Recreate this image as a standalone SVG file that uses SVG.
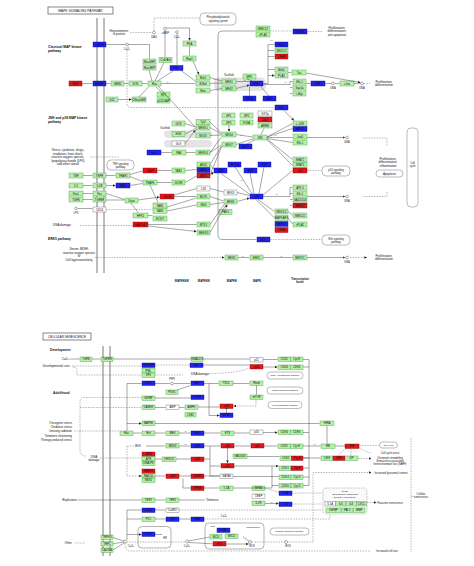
<svg xmlns="http://www.w3.org/2000/svg" width="474" height="566" viewBox="0 0 474 566">
<defs>
<style>
text{font-family:"Liberation Sans",Arial,sans-serif;fill:#111}
.n text{font-size:2.8px;text-anchor:middle}
.g{fill:#b7f0a8;stroke:#3f9f45;stroke-width:.4}
.b{fill:#1f24f0;stroke:#0a0a80;stroke-width:.4}
.r{fill:#e3161b;stroke:#800;stroke-width:.4}
.w{fill:#fff;stroke:#666;stroke-width:.4}
.l path{fill:none;stroke:#3c3c3c;stroke-width:.45}
.d path{stroke-dasharray:1.6 1.1;stroke:#666}
.t{font-size:3px}
.tc{font-size:3px;text-anchor:middle}
.ts{font-size:2.6px;text-anchor:middle}
.tp{font-size:2.2px;fill:#333}
.tb{font-size:3.3px;font-weight:bold}
.tbc{font-size:3.3px;font-weight:bold;text-anchor:middle}
.pw{fill:#fff;stroke:#777;stroke-width:.5}
.sc{fill:#e4e4e4}
.cp{fill:#fff;stroke:#333;stroke-width:.4}
.fr{fill:none;stroke:#666;stroke-width:.5}
.mem{stroke:#555;stroke-width:.8}
</style>
<marker id="a" viewBox="0 0 6 6" refX="6" refY="3" markerWidth="2.6" markerHeight="2.6" markerUnits="userSpaceOnUse" orient="auto"><path d="M0,0L6,3L0,6z" fill="#222"/></marker>
<marker id="t" viewBox="0 0 2 6" refX="1" refY="3" markerWidth="0.8" markerHeight="2.8" markerUnits="userSpaceOnUse" orient="auto"><path d="M0,0h2v6h-2z" fill="#222"/></marker>
</defs>
<rect width="474" height="566" fill="#fff"/>

<!-- ===== TOP PANEL FRAME ===== -->
<g id="top-frame">
<rect x="48" y="7" width="65" height="7" fill="#fff" stroke="#555" stroke-width=".7"/>
<text x="80.5" y="11.8" class="tc" style="font-size:3.3px">MAPK SIGNALING PATHWAY</text>
<line x1="97" y1="18" x2="97" y2="273" class="mem"/>
<line x1="104" y1="18" x2="104" y2="273" class="mem"/>
<text x="48" y="48" class="tb">Classical MAP kinase</text>
<text x="48" y="51.8" class="tb">pathway</text>
<text x="48" y="119" class="tb">JNK and p38 MAP kinase</text>
<text x="48" y="122.8" class="tb">pathway</text>
<text x="48" y="240" class="tb">ERK5 pathway</text>
<text class="tc"><tspan x="68" y="151">Stress, cytokines, drugs,</tspan><tspan x="68" y="154.5">irradiation, heat shock,</tspan><tspan x="68" y="158">reactive oxygen species,</tspan><tspan x="68" y="161.5">lipopolysaccharide (LPS)</tspan><tspan x="68" y="165">and other stimuli</tspan></text>
<text class="tc"><tspan x="79" y="250">Serum, BDNF,</tspan><tspan x="79" y="253.5">reactive oxygen species</tspan><tspan x="79" y="257">or</tspan><tspan x="79" y="260.5">Cell hyperosmolarity</tspan></text>
<text class="tc"><tspan x="119" y="31.5">Heterotrimeric</tspan><tspan x="119" y="35">G-protein</tspan></text>
<text x="62" y="226" class="tc">DNA damage</text>
<text class="tc"><tspan x="337" y="29">Proliferation,</tspan><tspan x="337" y="32.3">differentiation,</tspan><tspan x="337" y="35.6">anti-apoptosis</tspan></text>
<text class="tc"><tspan x="384" y="83">Proliferation,</tspan><tspan x="384" y="86.3">differentiation</tspan></text>
<text class="tc"><tspan x="388" y="160">Proliferation,</tspan><tspan x="388" y="163.3">differentiation,</tspan><tspan x="388" y="166.6">inflammation</tspan></text>
<text class="tc"><tspan x="384" y="257">Proliferation,</tspan><tspan x="384" y="260.3">differentiation</tspan></text>
<text x="182" y="281.5" class="tbc" style="font-size:2.8px">MAPKKKK</text>
<text x="204" y="281.5" class="tbc" style="font-size:2.8px">MAPKKK</text>
<text x="232" y="281.5" class="tbc" style="font-size:2.8px">MAPKK</text>
<text x="257" y="281.5" class="tbc" style="font-size:2.8px">MAPK</text>
<text class="tbc" style="font-size:2.8px"><tspan x="300" y="280">Transcription</tspan><tspan x="300" y="283.3">factor</tspan></text>
<text x="229" y="75.8" class="ts">Scaffold</text>
<text x="165" y="128.5" class="ts">Scaffold</text>
<rect x="214" y="77.5" width="52" height="13.5" rx="5" class="sc"/>
<rect x="164" y="130.5" width="48" height="7.5" rx="3.7" class="sc"/>
<rect x="164" y="140" width="48" height="7.5" rx="3.7" class="sc"/>
</g>

<g id="pathway-links-top">
<g id="pi-system"><rect x="200" y="13" width="36" height="12" rx="4" class="pw"/><text class="ts"><tspan x="218" y="18.3">Phosphatidylinositol</tspan><tspan x="218" y="21.6">signaling system</tspan></text></g>
<g id="tnf-path"><rect x="107" y="160" width="27" height="10" rx="4" class="pw"/><text class="ts"><tspan x="120.5" y="164.5">TNF signaling</tspan><tspan x="120.5" y="167.8">pathway</tspan></text></g>
<g id="p53-path"><rect x="322" y="166" width="28" height="10" rx="4" class="pw"/><text class="ts"><tspan x="336" y="170.5">p53 signaling</tspan><tspan x="336" y="173.8">pathway</tspan></text></g>
<g id="wnt-path"><rect x="322" y="235" width="28" height="10" rx="4" class="pw"/><text class="ts"><tspan x="336" y="239.5">Wnt signaling</tspan><tspan x="336" y="242.8">pathway</tspan></text></g>
<g id="apoptosis"><rect x="376" y="170" width="27" height="7" rx="3.5" class="pw"/><text x="389.5" y="174.6" class="tc">Apoptosis</text></g>
<g id="cellcycle-top"><rect x="407" y="128" width="11" height="79" rx="4" class="pw"/><text class="ts"><tspan x="412.5" y="164">Cell</tspan><tspan x="412.5" y="167.3">cycle</tspan></text></g>
</g>

<g id="compounds-top">
<circle cx="127" cy="44.5" r="1.4" class="cp"/><text x="127" y="50" class="ts">Ca2+</text>
<circle cx="154" cy="32.5" r="1.4" class="cp"/><text x="154" y="37.8" class="ts">DAG</text>
<circle cx="165" cy="28.5" r="1.4" class="cp"/><text x="165.5" y="33.8" class="ts">cAMP</text>
<circle cx="177" cy="32" r="1.4" class="cp"/><text x="177" y="37.5" class="ts">Ca2+</text>
<circle cx="76" cy="208.5" r="1.3" class="cp"/><text x="76" y="213.8" class="ts">LPS</text>
<circle cx="333" cy="83.5" r="1.4" class="cp"/><text x="333" y="88.5" class="ts">DNA</text>
<circle cx="362" cy="83.5" r="1.4" class="cp"/><text x="362" y="88.5" class="ts">DNA</text>
<circle cx="347" cy="137.5" r="1.4" class="cp"/><text x="347" y="142.5" class="ts">DNA</text>
<circle cx="347" cy="196.5" r="1.4" class="cp"/><text x="347" y="201.5" class="ts">DNA</text>
<circle cx="347" cy="257.5" r="1.4" class="cp"/><text x="347" y="262.5" class="ts">DNA</text>
</g>

<!-- ===== TOP NODES ===== -->
<g id="n-cacn" class="n" transform="translate(93,42)"><rect class="b" width="13" height="5"/><text x="6.5" y="3.6">CACN</text></g>
<g id="n-egf" class="n" transform="translate(69,81)"><rect class="r" width="13" height="5"/><text x="6.5" y="3.6">EGF</text></g>
<g id="n-egfr" class="n" transform="translate(93,81)"><rect class="b" width="13" height="5"/><text x="6.5" y="3.6">EGFR</text></g>
<g id="n-grb2" class="n" transform="translate(111,81)"><rect class="g" width="13" height="5"/><text x="6.5" y="3.6">GRB2</text></g>
<g id="n-sos" class="n" transform="translate(129,81)"><rect class="g" width="13" height="5"/><text x="6.5" y="3.6">SOS</text></g>
<g id="n-ras" class="n" transform="translate(148,81)"><rect class="g" width="13" height="5"/><text x="6.5" y="3.6">Ras</text></g>
<g id="n-g12" class="n" transform="translate(106,97)"><rect class="g" width="12" height="5"/><text x="6" y="3.6">G12</text></g>
<g id="n-cnras" class="n" transform="translate(132,97)"><rect class="g" width="14" height="5"/><text x="7" y="3.6">CNrasGEF</text></g>
<g id="n-rasgrf" class="n" transform="translate(143,59)"><rect class="g" width="13" height="5"/><text x="6.5" y="3.6">RasGRF</text></g>
<g id="n-rasgrp" class="n" transform="translate(143,65)"><rect class="g" width="13" height="5"/><text x="6.5" y="3.6">RasGRP</text></g>
<g id="n-caldag" class="n" transform="translate(159,57.5)"><rect class="g" width="13" height="5"/><text x="6.5" y="3.6">CalDAG</text></g>
<g id="n-pkc" class="n" transform="translate(170,65.5)"><rect class="b" width="13" height="5"/><text x="6.5" y="3.6">PKC</text></g>
<g id="n-pka" class="n" transform="translate(183,41)"><rect class="g" width="13" height="5"/><text x="6.5" y="3.6">PKA</text></g>
<g id="n-rap1" class="n" transform="translate(183,56)"><rect class="g" width="13" height="5"/><text x="6.5" y="3.6">Rap1</text></g>
<g id="n-raf1" class="n" transform="translate(196,75)"><rect class="g" width="14" height="5"/><text x="7" y="3.6">Raf1</text></g>
<g id="n-braf" class="n" transform="translate(196,81)"><rect class="g" width="14" height="5"/><text x="7" y="3.6">B-Raf</text></g>
<g id="n-mos" class="n" transform="translate(196,88)"><rect class="g" width="14" height="5"/><text x="7" y="3.6">Mos</text></g>
<g id="n-nf1" class="n" transform="translate(157,92)"><rect class="g" width="13" height="5"/><text x="6.5" y="3.6">NF1</text></g>
<g id="n-gap" class="n" transform="translate(157,98)"><rect class="g" width="13" height="5"/><text x="6.5" y="3.6">p120GAP</text></g>
<g id="n-mek1" class="n" transform="translate(222,79)"><rect class="g" width="14" height="5"/><text x="7" y="3.6">MEK1</text></g>
<g id="n-mek2" class="n" transform="translate(222,86)"><rect class="g" width="14" height="5"/><text x="7" y="3.6">MEK2</text></g>
<g id="n-mp1" class="n" transform="translate(243,74)"><rect class="g" width="13" height="5"/><text x="6.5" y="3.6">MP1</text></g>
<g id="n-erk" class="n" transform="translate(250,81)"><rect class="b" width="13" height="5"/><text x="6.5" y="3.6">ERK</text></g>
<g id="n-pp2a" class="n" transform="translate(243,96)"><rect class="b" width="13" height="5"/><text x="6.5" y="3.6">PP2A</text></g>
<g id="n-mkp1" class="n" transform="translate(263,96)"><rect class="b" width="13" height="5"/><text x="6.5" y="3.6">MKP</text></g>
<g id="n-mnk1" class="n" transform="translate(256,26)"><rect class="g" width="14" height="5"/><text x="7" y="3.6">MNK1/2</text></g>
<g id="n-cpla2a" class="n" transform="translate(256,32)"><rect class="g" width="14" height="5"/><text x="7" y="3.6">cPLA2</text></g>
<g id="n-stmn" class="n" transform="translate(293,29)"><rect class="b" width="14" height="5"/><text x="7" y="3.6">STMN1</text></g>
<g id="n-rsk2" class="n" transform="translate(275,42)"><rect class="b" width="13" height="5"/><text x="6.5" y="3.6">RSK2</text></g>
<g id="n-msk" class="n" transform="translate(275,48)"><rect class="g" width="13" height="5"/><text x="6.5" y="3.6">MSK1/2</text></g>
<g id="n-creb" class="n" transform="translate(275,54)"><rect class="r" width="13" height="5"/><text x="6.5" y="3.6">CREB</text></g>
<g id="n-mnk2" class="n" transform="translate(275,67)"><rect class="g" width="13" height="5"/><text x="6.5" y="3.6">Mnk1</text></g>
<g id="n-pla2" class="n" transform="translate(275,73)"><rect class="g" width="13" height="5"/><text x="6.5" y="3.6">PLA2</text></g>
<g id="n-tau" class="n" transform="translate(292,70)"><rect class="g" width="14" height="5"/><text x="7" y="3.6">Tau</text></g>
<g id="n-elk1" class="n" transform="translate(293,79)"><rect class="g" width="13" height="5"/><text x="6.5" y="3.6">Elk-1</text></g>
<g id="n-sap1a" class="n" transform="translate(293,85)"><rect class="g" width="13" height="5"/><text x="6.5" y="3.6">Sap1a</text></g>
<g id="n-myc" class="n" transform="translate(293,91)"><rect class="g" width="13" height="5"/><text x="6.5" y="3.6">c-Myc</text></g>
<g id="n-srf" class="n" transform="translate(311,81)"><rect class="b" width="14" height="5"/><text x="7" y="3.6">SRF</text></g>
<g id="n-fos" class="n" transform="translate(340,81)"><rect class="g" width="14" height="5"/><text x="7" y="3.6">c-fos</text></g>
<g id="n-pp5" class="n" transform="translate(275,105)"><rect class="b" width="13" height="5"/><text x="6.5" y="3.6">PP5</text></g>

<g id="n-tnf" class="n" transform="translate(69,173)"><rect class="g" width="14" height="5"/><text x="7" y="3.6">TNF</text></g>
<g id="n-tnfr" class="n" transform="translate(93,173)"><rect class="g" width="13" height="5"/><text x="6.5" y="3.6">TNFR</text></g>
<g id="n-il1" class="n" transform="translate(69,183)"><rect class="g" width="14" height="5"/><text x="7" y="3.6">IL1</text></g>
<g id="n-il1r" class="n" transform="translate(93,183)"><rect class="g" width="13" height="5"/><text x="6.5" y="3.6">IL1R</text></g>
<g id="n-fasl" class="n" transform="translate(69,191)"><rect class="g" width="14" height="5"/><text x="7" y="3.6">FasL</text></g>
<g id="n-fas" class="n" transform="translate(93,191)"><rect class="g" width="13" height="5"/><text x="6.5" y="3.6">Fas</text></g>
<g id="n-tgfb" class="n" transform="translate(69,197)"><rect class="g" width="14" height="5"/><text x="7" y="3.6">TGFB</text></g>
<g id="n-tgfbr" class="n" transform="translate(93,197)"><rect class="g" width="13" height="5"/><text x="6.5" y="3.6">TGFBR</text></g>
<g id="n-cd14" class="n" transform="translate(93,207)"><rect class="w" width="13" height="5"/><text x="6.5" y="3.6">CD14</text></g>
<g id="n-traf2" class="n" transform="translate(116,173)"><rect class="g" width="14" height="5"/><text x="7" y="3.6">TRAF2</text></g>
<g id="n-irak" class="n" transform="translate(116,183)"><rect class="b" width="14" height="5"/><text x="7" y="3.6">IRAK</text></g>
<g id="n-daxx" class="n" transform="translate(125,198)"><rect class="g" width="13" height="5"/><text x="6.5" y="3.6">Daxx</text></g>
<g id="n-casp" class="n" transform="translate(143,168)"><rect class="r" width="14" height="5"/><text x="7" y="3.6">CASP</text></g>
<g id="n-traf6" class="n" transform="translate(143,180)"><rect class="g" width="14" height="5"/><text x="7" y="3.6">TRAF6</text></g>
<g id="n-hpk1" class="n" transform="translate(133,213)"><rect class="g" width="15" height="5"/><text x="7.5" y="3.6">HPK1</text></g>
<g id="n-tab1" class="n" transform="translate(153,203)"><rect class="g" width="14" height="5"/><text x="7" y="3.6">TAB1</text></g>
<g id="n-tab2" class="n" transform="translate(153,208.5)"><rect class="g" width="14" height="5"/><text x="7" y="3.6">TAB2</text></g>
<g id="n-ecsit" class="n" transform="translate(153,216)"><rect class="g" width="14" height="5"/><text x="7" y="3.6">ECSIT</text></g>
<g id="n-gadd45" class="n" transform="translate(133,222)"><rect class="r" width="15" height="5"/><text x="7.5" y="3.6">GADD45</text></g>
<g id="n-cdc42" class="n" transform="translate(160,194)"><rect class="r" width="14" height="5"/><text x="7" y="3.6">Cdc42</text></g>
<g id="n-rac" class="n" transform="translate(147,150)"><rect class="b" width="14" height="5"/><text x="7" y="3.6">Rac</text></g>
<g id="n-pak" class="n" transform="translate(172,150)"><rect class="g" width="14" height="5"/><text x="7" y="3.6">PAK</text></g>
<g id="n-tab3" class="n" transform="translate(172,168)"><rect class="g" width="13" height="5"/><text x="6.5" y="3.6">TAB1</text></g>
<g id="n-gckr" class="n" transform="translate(172,180)"><rect class="g" width="13" height="5"/><text x="6.5" y="3.6">GCKR</text></g>
<g id="n-gck" class="n" transform="translate(172,121)"><rect class="g" width="13" height="5"/><text x="6.5" y="3.6">GCK</text></g>
<g id="n-hgk" class="n" transform="translate(172,131.5)"><rect class="g" width="13" height="5"/><text x="6.5" y="3.6">HGK</text></g>
<g id="n-glk" class="n" transform="translate(172,141)"><rect class="w" width="13" height="5"/><text x="6.5" y="3.6">GLK</text></g>
<g id="n-tpl2" class="n" transform="translate(196,119.5)"><rect class="g" width="14" height="5"/><text x="7" y="3.6">Tpl2</text></g>
<g id="n-mekk1" class="n" transform="translate(196,125)"><rect class="g" width="14" height="5"/><text x="7" y="3.6">MEKK1</text></g>
<g id="n-mlk3" class="n" transform="translate(196,133)"><rect class="g" width="14" height="5"/><text x="7" y="3.6">MLK3</text></g>
<g id="n-mekk4" class="n" transform="translate(196,150)"><rect class="g" width="14" height="5"/><text x="7" y="3.6">MEKK4</text></g>
<g id="n-ask2" class="n" transform="translate(197,162)"><rect class="g" width="13" height="5"/><text x="6.5" y="3.6">ASK2</text></g>
<g id="n-tak1" class="n" transform="translate(197,167.5)"><rect class="b" width="13" height="5"/><text x="6.5" y="3.6">TAK1</text></g>
<g id="n-ask1" class="n" transform="translate(197,173)"><rect class="r" width="13" height="5"/><text x="6.5" y="3.6">ASK1</text></g>
<g id="n-lzk" class="n" transform="translate(197,186)"><rect class="w" width="13" height="5"/><text x="6.5" y="3.6">LZK</text></g>
<g id="n-mltk" class="n" transform="translate(197,194)"><rect class="g" width="13" height="5"/><text x="6.5" y="3.6">MLTK</text></g>
<g id="n-muk" class="n" transform="translate(197,202)"><rect class="g" width="13" height="5"/><text x="6.5" y="3.6">MUK</text></g>
<g id="n-pak2" class="n" transform="translate(219,209.5)"><rect class="g" width="13" height="5"/><text x="6.5" y="3.6">PAK1</text></g>
<g id="n-mtk1" class="n" transform="translate(197,222)"><rect class="g" width="13" height="5"/><text x="6.5" y="3.6">MTK1</text></g>
<g id="n-mekk3" class="n" transform="translate(197,230)"><rect class="g" width="13" height="5"/><text x="6.5" y="3.6">MEKK3</text></g>
<g id="n-mkk4" class="n" transform="translate(222,132)"><rect class="g" width="14" height="5"/><text x="7" y="3.6">MKK4</text></g>
<g id="n-mkk7" class="n" transform="translate(222,142)"><rect class="g" width="14" height="5"/><text x="7" y="3.6">MKK7</text></g>
<g id="n-jip1" class="n" transform="translate(222,113)"><rect class="g" width="13" height="5"/><text x="6.5" y="3.6">JIP1</text></g>
<g id="n-jip2" class="n" transform="translate(240,113)"><rect class="g" width="13" height="5"/><text x="6.5" y="3.6">JIP2</text></g>
<g id="n-jip3" class="n" transform="translate(222,120)"><rect class="g" width="13" height="5"/><text x="6.5" y="3.6">JIP3</text></g>
<g id="n-flna" class="n" transform="translate(240,120)"><rect class="g" width="13" height="5"/><text x="6.5" y="3.6">FLNA</text></g>
<g id="n-gstp" class="n" transform="translate(258,111)"><rect class="w" width="14" height="5"/><text x="7" y="3.6">GSTp</text></g>
<g id="n-crk" class="n" transform="translate(258,117)"><rect class="r" width="14" height="5"/><text x="7" y="3.6">CrkII</text></g>
<g id="n-arrb" class="n" transform="translate(258,123)"><rect class="g" width="14" height="5"/><text x="7" y="3.6">ARRB</text></g>
<g id="n-jnk" class="n" transform="translate(253,135)"><rect class="g" width="14" height="5"/><text x="7" y="3.6">JNK</text></g>
<g id="n-mkp7" class="n" transform="translate(239,144)"><rect class="b" width="13" height="5"/><text x="6.5" y="3.6">MKP7</text></g>
<g id="n-cjun" class="n" transform="translate(293,121)"><rect class="g" width="14" height="5"/><text x="7" y="3.6">c-JUN</text></g>
<g id="n-atf2" class="n" transform="translate(293,126.5)"><rect class="b" width="14" height="5"/><text x="7" y="3.6">ATF-2</text></g>
<g id="n-jund" class="n" transform="translate(293,134)"><rect class="g" width="14" height="5"/><text x="7" y="3.6">JunD</text></g>
<g id="n-elk1b" class="n" transform="translate(293,140)"><rect class="g" width="14" height="5"/><text x="7" y="3.6">Elk-1</text></g>
<g id="n-nfat2" class="n" transform="translate(293,157)"><rect class="g" width="14" height="5"/><text x="7" y="3.6">NFAT2</text></g>
<g id="n-nfat4" class="n" transform="translate(293,162.5)"><rect class="g" width="14" height="5"/><text x="7" y="3.6">NFAT4</text></g>
<g id="n-p53t" class="n" transform="translate(293,168)"><rect class="r" width="14" height="5"/><text x="7" y="3.6">p53</text></g>
<g id="n-b1" class="n" transform="translate(214,168)"><rect class="b" width="13" height="5"/><text x="6.5" y="3.6">TAB1</text></g>
<g id="n-pp2ca" class="n" transform="translate(228,162)"><rect class="b" width="13" height="5"/><text x="6.5" y="3.6">PP2CA</text></g>
<g id="n-mkp" class="n" transform="translate(244,168)"><rect class="b" width="13" height="5"/><text x="6.5" y="3.6">MKP</text></g>
<g id="n-ptp" class="n" transform="translate(258,162)"><rect class="b" width="13" height="5"/><text x="6.5" y="3.6">PTP</text></g>
<g id="n-mkk3" class="n" transform="translate(224,190)"><rect class="w" width="13" height="5"/><text x="6.5" y="3.6">MKK3</text></g>
<g id="n-mkk6" class="n" transform="translate(224,199)"><rect class="g" width="13" height="5"/><text x="6.5" y="3.6">MKK6</text></g>
<g id="n-p38" class="n" transform="translate(250,194)"><rect class="b" width="13" height="5"/><text x="6.5" y="3.6">p38</text></g>
<g id="n-atf2b" class="n" transform="translate(293,185)"><rect class="g" width="14" height="5"/><text x="7" y="3.6">ATF-2</text></g>
<g id="n-elk1c" class="n" transform="translate(293,191)"><rect class="g" width="14" height="5"/><text x="7" y="3.6">Elk-1</text></g>
<g id="n-ddit3" class="n" transform="translate(293,197)"><rect class="g" width="14" height="5"/><text x="7" y="3.6">GADD153</text></g>
<g id="n-mef2a" class="n" transform="translate(293,203)"><rect class="r" width="14" height="5"/><text x="7" y="3.6">MEF2C</text></g>
<g id="n-msk2" class="n" transform="translate(275,209)"><rect class="g" width="13" height="5"/><text x="6.5" y="3.6">MSK1/2</text></g>
<g id="n-mapkapk" class="n" transform="translate(275,215.5)"><rect class="g" width="13" height="5"/><text x="6.5" y="3.6">MAPKAPK</text></g>
<g id="n-hsp27" class="n" transform="translate(275,221.5)"><rect class="b" width="13" height="5"/><text x="6.5" y="3.6">HSP27</text></g>
<g id="n-creb2" class="n" transform="translate(275,227.5)"><rect class="r" width="13" height="5"/><text x="6.5" y="3.6">CREB</text></g>
<g id="n-mnk3" class="n" transform="translate(293,213)"><rect class="g" width="14" height="5"/><text x="7" y="3.6">MNK1/2</text></g>
<g id="n-cpla2b" class="n" transform="translate(293,222)"><rect class="g" width="14" height="5"/><text x="7" y="3.6">cPLA2</text></g>
<g id="n-nlk" class="n" transform="translate(257,237)"><rect class="b" width="13" height="5"/><text x="6.5" y="3.6">NLK</text></g>
<g id="n-mek5" class="n" transform="translate(225,255)"><rect class="g" width="13" height="5"/><text x="6.5" y="3.6">MEK5</text></g>
<g id="n-erk5" class="n" transform="translate(250,255)"><rect class="g" width="13" height="5"/><text x="6.5" y="3.6">ERK5</text></g>
<g id="n-mef2c" class="n" transform="translate(293,255)"><rect class="g" width="14" height="5"/><text x="7" y="3.6">MEF2C</text></g>

<!-- ===== BOTTOM PANEL FRAME ===== -->
<g id="bottom-frame">
<rect x="43" y="333" width="48" height="7" fill="#fff" stroke="#555" stroke-width=".7"/>
<text x="67" y="337.8" class="tc" style="font-size:3.1px">CELLULAR SENESCENCE</text>
<line x1="103" y1="346" x2="103" y2="556" class="mem"/>
<line x1="110" y1="346" x2="110" y2="556" class="mem"/>
<text x="50" y="350.5" class="tb">Development</text>
<text x="69" y="360" class="t" text-anchor="end">Ca2+</text>
<text x="70" y="367" class="t" text-anchor="end">Developmental cues</text>
<text x="53" y="393.5" class="tb">Adulthood</text>
<text class="t" text-anchor="end"><tspan x="72" y="424">Oncogene stress</tspan><tspan x="72" y="428.2">Oxidative stress</tspan><tspan x="72" y="432.4">Ionizing radiation</tspan><tspan x="72" y="436.6">Telomere shortening</tspan><tspan x="72" y="440.8">Therapy-induced stress</tspan></text>
<text class="tc"><tspan x="94" y="457.5">DNA</tspan><tspan x="94" y="460.8">damage</tspan></text>
<text x="200" y="374.5" class="tc">DNA damage</text>
<text x="77" y="501" class="t" text-anchor="end">Replicative</text>
<text x="206" y="501" class="t">Telomere</text>
<text x="72" y="544" class="t" text-anchor="end">Other</text>
<text x="138" y="447" class="ts">ROS</text>
<text x="172" y="380" class="ts">PIP3</text>
<text x="224" y="517" class="ts">Ca2+</text>
<text x="390" y="454" class="ts">Cell cycle arrest</text>
<text class="ts"><tspan x="390" y="458.5">Chromatin remodeling</tspan><tspan x="390" y="461.8">Senescence-associated</tspan><tspan x="390" y="465.1">heterochromatin foci (SAHF)</tspan></text>
<text x="391" y="473.5" class="ts">Increased lysosomal content</text>
<text x="390" y="503.5" class="ts">Paracrine senescence</text>
<text x="387" y="552" class="ts">Increased cell size</text>
<text class="ts"><tspan x="421" y="495">Cellular</tspan><tspan x="421" y="498.3">senescence</tspan></text>
</g>

<g id="pathway-links-bottom">
<g id="pi3k-path"><rect x="267" y="372" width="36" height="7" rx="3.5" class="pw"/><text x="285" y="376.4" class="ts" style="font-size:2.4px">PI3K-Akt signaling pathway</text></g>
<g id="mtor-path"><rect x="267" y="387" width="36" height="7" rx="3.5" class="pw"/><text x="285" y="391.4" class="ts" style="font-size:2.4px">mTOR signaling pathway</text></g>
<g id="foxo-path"><rect x="268" y="401.5" width="34" height="7" rx="3.5" class="pw"/><text x="285" y="405.9" class="ts" style="font-size:2.4px">FoxO signaling pathway</text></g>
<g id="cellcycle-b"><rect x="379.5" y="442" width="18" height="6" rx="3" class="pw"/><text x="388.5" y="446" class="ts" style="font-size:2.4px">Cell cycle</text></g>
<g id="calcium-path"><rect x="270" y="528" width="39" height="7" rx="3.5" class="pw"/><text x="289.5" y="532.4" class="ts" style="font-size:2.4px">Calcium signaling pathway</text></g>
</g>

<g id="compartments">
<g id="er"><rect x="138" y="526.5" width="33" height="21.5" rx="4" class="fr"/><text x="165" y="539" class="ts">ER</text></g>
<g id="mito"><rect x="205" y="523" width="59" height="26" rx="4" class="fr"/><text x="253" y="527.5" class="ts" style="font-size:2.4px">Mitochondria</text><text x="213" y="527" class="ts" style="font-size:2.2px">ETC</text></g>
<g id="sasp"><rect x="323" y="488" width="44" height="26" rx="3" fill="#fafafa" stroke="#888" stroke-width=".5" stroke-dasharray="1.5 1"/><text class="ts" style="font-size:2.4px"><tspan x="345" y="491.5">SASP</tspan><tspan x="345" y="494.6">(Senescence-associated</tspan><tspan x="345" y="497.7">secretory phenotype)</tspan></text></g>
</g>

<g id="compounds-bottom">
<circle cx="172" cy="383.5" r="1.4" class="cp"/>
<circle cx="125" cy="541.5" r="1.5" class="cp"/><text x="131" y="547" class="ts">Ca2+</text>
<circle cx="187" cy="541.5" r="1.5" class="cp"/><text x="187" y="547" class="ts">Ca2+</text>
<circle cx="250" cy="542" r="1.5" class="cp"/><text x="252" y="547.3" class="ts">ROS</text>
<circle cx="286" cy="542" r="1.5" class="cp"/><text x="288" y="547.3" class="ts">ROS</text>
</g>

<!-- ===== BOTTOM NODES ===== -->
<g id="b-tgfb" class="n" transform="translate(80,357)"><rect class="g" width="12" height="4.5"/><text x="6" y="3.3">TGFB</text></g>
<g id="b-tgfbr" class="n" transform="translate(101,357)"><rect class="g" width="12" height="4.5"/><text x="6" y="3.3">TGFBR</text></g>
<g id="b-smad" class="n" transform="translate(191,357)"><rect class="g" width="12" height="4.5"/><text x="6" y="3.3">SMAD2/3</text></g>
<g id="b-p21d" class="n" transform="translate(250,357.5)"><rect class="w" width="13" height="4.5"/><text x="6.5" y="3.3">p21</text></g>
<g id="b-cdk2d" class="n" transform="translate(278,357)"><rect class="g" width="12.5" height="4.5"/><rect class="g" x="12.5" width="12.5" height="4.5"/><text x="6.2" y="3.3">CDK2</text><text x="18.7" y="3.3">CycE</text></g>
<g id="b-hoxa" class="n" transform="translate(142,363)"><rect class="b" width="13" height="4.5"/><text x="6.5" y="3.3">HOXA9</text></g>
<g id="b-pml" class="n" transform="translate(142,368.5)"><rect class="g" width="13" height="4.5"/><text x="6.5" y="3.3">PML</text></g>
<g id="b-sp1" class="n" transform="translate(142,373)"><rect class="g" width="13" height="4.5"/><text x="6.5" y="3.3">SP1</text></g>
<g id="b-p15" class="n" transform="translate(190,363)"><rect class="b" width="13" height="4.5"/><text x="6.5" y="3.3">p15</text></g>
<g id="b-p16d" class="n" transform="translate(250,364.5)"><rect class="r" width="13" height="4.5"/><text x="6.5" y="3.3">p16</text></g>
<g id="b-cdk4d" class="n" transform="translate(278,365)"><rect class="g" width="12.5" height="4.5"/><rect class="g" x="12.5" width="12.5" height="4.5"/><text x="6.2" y="3.3">CDK4</text><text x="18.7" y="3.3">CDK6</text></g>
<g id="b-pi3k" class="n" transform="translate(142,381)"><rect class="b" width="13" height="4.5"/><text x="6.5" y="3.3">PI3K</text></g>
<g id="b-pdk1" class="n" transform="translate(166,390)"><rect class="g" width="12" height="4.5"/><text x="6" y="3.3">PDK1</text></g>
<g id="b-akt" class="n" transform="translate(191,381)"><rect class="b" width="13" height="4.5"/><text x="6.5" y="3.3">AKT</text></g>
<g id="b-tsc2" class="n" transform="translate(219,381)"><rect class="g" width="14" height="4.5"/><text x="7" y="3.3">TSC2</text></g>
<g id="b-rheb" class="n" transform="translate(250,381)"><rect class="g" width="13" height="4.5"/><text x="6.5" y="3.3">Rheb</text></g>
<g id="b-mtor" class="n" transform="translate(250,395)"><rect class="g" width="13" height="4.5"/><text x="6.5" y="3.3">mTOR</text></g>
<g id="b-igf" class="n" transform="translate(142,396)"><rect class="g" width="13" height="4.5"/><text x="6.5" y="3.3">IGFBP</text></g>
<g id="b-foxo" class="n" transform="translate(191,395)"><rect class="b" width="13" height="4.5"/><text x="6.5" y="3.3">FOXO</text></g>
<g id="b-camkk" class="n" transform="translate(142,405)"><rect class="g" width="13" height="4.5"/><text x="6.5" y="3.3">CAMKK</text></g>
<g id="b-amp" class="n" transform="translate(166,405)"><rect class="w" width="13" height="4.5"/><text x="6.5" y="3.3">AMP</text></g>
<g id="b-ampk" class="n" transform="translate(185,405)"><rect class="g" width="13" height="4.5"/><text x="6.5" y="3.3">AMPK</text></g>
<g id="b-lkb1" class="n" transform="translate(185,412.5)"><rect class="g" width="11" height="4.5"/><text x="5.5" y="3.3">LKB1</text></g>
<g id="b-p53a" class="n" transform="translate(220,404)"><rect class="r" width="13" height="4.5"/><text x="6.5" y="3.3">p53</text></g>
<g id="b-mdm2a" class="n" transform="translate(220,413)"><rect class="b" width="13" height="4.5"/><text x="6.5" y="3.3">MDM2</text></g>
<g id="b-map3k" class="n" transform="translate(142,421)"><rect class="g" width="13" height="4.5"/><text x="6.5" y="3.3">MAP3K</text></g>
<g id="b-ras" class="n" transform="translate(120,431)"><rect class="g" width="13" height="4.5"/><text x="6.5" y="3.3">Ras</text></g>
<g id="b-raf" class="n" transform="translate(142,431)"><rect class="g" width="13" height="4.5"/><text x="6.5" y="3.3">Raf</text></g>
<g id="b-mek" class="n" transform="translate(166,431)"><rect class="g" width="13" height="4.5"/><text x="6.5" y="3.3">MEK</text></g>
<g id="b-erk" class="n" transform="translate(191,431)"><rect class="b" width="13" height="4.5"/><text x="6.5" y="3.3">ERK</text></g>
<g id="b-ets" class="n" transform="translate(221,431)"><rect class="g" width="13" height="4.5"/><text x="6.5" y="3.3">ETS</text></g>
<g id="b-p16" class="n" transform="translate(250,430)"><rect class="w" width="13" height="4.5"/><text x="6.5" y="3.3">p16</text></g>
<g id="b-cdk46" class="n" transform="translate(278,430)"><rect class="g" width="12.5" height="4.5"/><rect class="g" x="12.5" width="12.5" height="4.5"/><text x="6.2" y="3.3">CDK4</text><text x="18.7" y="3.3">CDK6</text></g>
<g id="b-hira" class="n" transform="translate(320,421)"><rect class="g" width="14" height="4.5"/><text x="7" y="3.3">HIRA</text></g>
<g id="b-mkk3" class="n" transform="translate(166,443.5)"><rect class="g" width="13" height="4.5"/><text x="6.5" y="3.3">MKK3</text></g>
<g id="b-p38" class="n" transform="translate(191,443.5)"><rect class="b" width="13" height="4.5"/><text x="6.5" y="3.3">p38</text></g>
<g id="b-p53" class="n" transform="translate(221,443.5)"><rect class="r" width="13" height="4.5"/><text x="6.5" y="3.3">p53</text></g>
<g id="b-p21" class="n" transform="translate(251,443.5)"><rect class="r" width="13" height="4.5"/><text x="6.5" y="3.3">p21</text></g>
<g id="b-cdk2e" class="n" transform="translate(278,444)"><rect class="g" width="12.5" height="4.5"/><rect class="g" x="12.5" width="12.5" height="4.5"/><text x="6.2" y="3.3">CDK2</text><text x="18.7" y="3.3">CycE</text></g>
<g id="b-rb" class="n" transform="translate(321,444)"><rect class="g" width="14" height="4.5"/><text x="7" y="3.3">RB</text></g>
<g id="b-e2f" class="n" transform="translate(345,444)"><rect class="r" width="14" height="4.5"/><text x="7" y="3.3">E2F</text></g>
<g id="b-atm" class="n" transform="translate(142,452)"><rect class="r" width="13" height="4.5"/><rect class="g" y="4.5" width="13" height="4.5"/><rect class="g" y="9" width="13" height="4.5"/><text x="6.5" y="3.3">ATM</text><text x="6.5" y="7.8">ATR</text><text x="6.5" y="12.3">DNA-PK</text></g>
<g id="b-chk" class="n" transform="translate(162,457)"><rect class="g" width="14" height="4.5"/><text x="7" y="3.3">CHK1/2</text></g>
<g id="b-p53b" class="n" transform="translate(191,457)"><rect class="r" width="13" height="4.5"/><text x="6.5" y="3.3">p53</text></g>
<g id="b-p21b" class="n" transform="translate(221,463.5)"><rect class="r" width="13" height="4.5"/><text x="6.5" y="3.3">p21</text></g>
<g id="b-gadd" class="n" transform="translate(233,454)"><rect class="g" width="14" height="4.5"/><text x="7" y="3.3">GADD45</text></g>
<g id="b-cdk2a" class="n" transform="translate(280,456)"><rect class="g" width="11.5" height="4.5"/><rect class="r" x="11.5" width="11.5" height="4.5"/><text x="5.7" y="3.3">CDK2</text><text x="17.2" y="3.3">CycA</text></g>
<g id="b-dream" class="n" transform="translate(321,456)"><rect class="g" width="12" height="4.5"/><rect class="r" x="12" width="12" height="4.5"/><rect class="g" x="24" width="13" height="4.5"/><text x="6" y="3.3">LIN9</text><text x="18" y="3.3">E2F</text><text x="30.5" y="3.3">DP</text></g>
<g id="b-mrn" class="n" transform="translate(142,469)"><rect class="r" width="13" height="4.5"/><rect class="g" y="4.5" width="13" height="4.5"/><rect class="g" y="9" width="13" height="4.5"/><text x="6.5" y="3.3">MRE11</text><text x="6.5" y="7.8">RAD50</text><text x="6.5" y="12.3">NBS1</text></g>
<g id="b-p38b" class="n" transform="translate(166,474)"><rect class="r" width="13" height="4.5"/><text x="6.5" y="3.3">p38</text></g>
<g id="b-cebpb" class="n" transform="translate(191,474)"><rect class="r" width="13" height="4.5"/><text x="6.5" y="3.3">CEBPB</text></g>
<g id="b-gata4" class="n" transform="translate(220,474)"><rect class="w" width="13" height="4.5"/><text x="6.5" y="3.3">GATA4</text></g>
<g id="b-cdk1" class="n" transform="translate(279,466)"><rect class="g" width="12" height="4.5"/><rect class="r" x="12" width="12" height="4.5"/><text x="6" y="3.3">CDK1</text><text x="18" y="3.3">CycB</text></g>
<g id="b-cdk4b" class="n" transform="translate(279,475)"><rect class="g" width="12" height="4.5"/><rect class="g" x="12" width="12" height="4.5"/><text x="6" y="3.3">CDK4</text><text x="18" y="3.3">CycD</text></g>
<g id="b-cdk6b" class="n" transform="translate(279,483.5)"><rect class="g" width="12" height="4.5"/><rect class="g" x="12" width="12" height="4.5"/><text x="6" y="3.3">CDK6</text><text x="18" y="3.3">CycD</text></g>
<g id="b-nfkb2" class="n" transform="translate(191,486)"><rect class="r" width="13" height="4.5"/><text x="6.5" y="3.3">NFKB</text></g>
<g id="b-il1g" class="n" transform="translate(220,486)"><rect class="g" width="13" height="4.5"/><text x="6.5" y="3.3">IL1A</text></g>
<g id="b-nfkb" class="n" transform="translate(252,486)"><rect class="g" width="13" height="4.5"/><text x="6.5" y="3.3">NFKB</text></g>
<g id="b-w2" class="n" transform="translate(252,494)"><rect class="w" width="13" height="4.5"/><text x="6.5" y="3.3">CEBP</text></g>
<g id="b-g3" class="n" transform="translate(252,501)"><rect class="g" width="13" height="4.5"/><text x="6.5" y="3.3">IL1R</text></g>
<g id="b-il1a" class="n" transform="translate(279,491)"><rect class="b" width="13" height="4.5"/><text x="6.5" y="3.3">IL1A</text></g>
<g id="b-il6" class="n" transform="translate(279,502)"><rect class="b" width="13" height="4.5"/><text x="6.5" y="3.3">IL6</text></g>
<g id="b-sasp1" class="n" transform="translate(325,501.5)"><rect class="w" width="10.5" height="4.5"/><rect class="g" x="10.5" width="10.5" height="4.5"/><rect class="g" x="21" width="10.5" height="4.5"/><rect class="g" x="31.5" width="10" height="4.5"/><text x="5.2" y="3.3">IL1A</text><text x="15.7" y="3.3">IL6</text><text x="26.2" y="3.3">IL8</text><text x="36.5" y="3.3">CXCL</text></g>
<g id="b-sasp2" class="n" transform="translate(326,508)"><rect class="g" width="15" height="4.5"/><rect class="g" x="15.5" width="11.5" height="4.5"/><rect class="g" x="27.5" width="11.5" height="4.5"/><text x="7.5" y="3.3">IGFBP</text><text x="21.2" y="3.3">PAI-1</text><text x="33.2" y="3.3">MMP</text></g>
<g id="b-tert" class="n" transform="translate(142,498)"><rect class="g" width="13" height="4.5"/><text x="6.5" y="3.3">TERT</text></g>
<g id="b-trf2" class="n" transform="translate(166,498)"><rect class="g" width="13" height="4.5"/><text x="6.5" y="3.3">TRF2</text></g>
<g id="b-calm" class="n" transform="translate(142,508)"><rect class="b" width="13" height="4.5"/><text x="6.5" y="3.3">CALM</text></g>
<g id="b-camk" class="n" transform="translate(166,508)"><rect class="w" width="13" height="4.5"/><text x="6.5" y="3.3">CaMKII</text></g>
<g id="b-plc" class="n" transform="translate(142,517)"><rect class="g" width="13" height="4.5"/><text x="6.5" y="3.3">PLC</text></g>
<g id="b-cn" class="n" transform="translate(166,517)"><rect class="b" width="13" height="4.5"/><text x="6.5" y="3.3">CN</text></g>
<g id="b-nfat" class="n" transform="translate(191,517)"><rect class="b" width="13" height="4.5"/><text x="6.5" y="3.3">NFAT</text></g>
<g id="b-trpv4" class="n" transform="translate(101,535)"><rect class="g" width="12" height="4.5"/><text x="6" y="3.3">TRPV4</text></g>
<g id="b-trpc" class="n" transform="translate(101,541.5)"><rect class="g" width="12" height="4.5"/><text x="6" y="3.3">TRPC</text></g>
<g id="b-cacn" class="n" transform="translate(101,548)"><rect class="g" width="12" height="4.5"/><text x="6" y="3.3">CACNA</text></g>
<g id="b-itpr" class="n" transform="translate(142,532)"><rect class="b" width="13" height="4.5"/><text x="6.5" y="3.3">ITPR</text></g>
<g id="b-vdac" class="n" transform="translate(217,528)"><rect class="b" width="13" height="4.5"/><text x="6.5" y="3.3">VDAC</text></g>
<g id="b-mcu" class="n" transform="translate(210,534.5)"><rect class="g" width="12" height="4.5"/><text x="6" y="3.3">MCU</text></g>
<g id="b-micu" class="n" transform="translate(225,534)"><rect class="g" width="13" height="4.5"/><text x="6.5" y="3.3">MICU</text></g>
<g id="b-etc" class="n" transform="translate(213,541.5)"><rect class="r" width="13" height="4.5"/><text x="6.5" y="3.3">ETC</text></g>

<!-- ===== CONNECTORS ===== -->
<g id="connectors">
<g class="l" marker-end="url(#a)">
<path d="M82,83.5H92.5M106,83.5H110.5M124,83.5H128.5M142,83.5H147.5M161,83.5H195.5M118,99.5H131.5"/>
<path d="M139,97L149,86.5M149,70L152,81M164,62.5L155,81M173,71L157.5,81M181,70.5L196,81.5M189.5,46V55.5M193,61L199,74.5"/>
<path d="M106,44.5H125.5M128.4,44.5H149.5V58.5M165,30V57M177,33.5V65M166.4,28H189.5V40.5"/>
<path d="M210,77.5L222,81M210,83.5L222,83M210,90.5L222,88.5M236,81.5H249.5M236,88.5L249.5,85"/>
<path d="M263,83.5H268V44.5H274.5M268,50.5H274.5M268,56.5H274.5M268,69.5H274.5M268,75.5H274.5"/>
<path d="M263,84.5H290V81.5H292.5M290,87.5H292.5M290,93.5H292.5M306,83.5H310.5M325,83.5H331.5M334.6,83.5H339.5M354,83.5H360.5M288,72.5H291.5M306,73L360.5,82.5"/>
<path d="M218,134V35Q218,31 222,31H255.5M218,134V235Q218,239.5 222,239.5H256.5M158,86L195.5,127.5M284,110.5L294,120.5"/>
<path d="M83,175.5H92.5M83,185.5H92.5M83,193.5H92.5M83,199.5H92.5M77.5,208.5H92.5M106,175.5H115.5M106,185.5H115.5"/>
<path d="M130,174.5L142.5,171M130,176.5L142.5,181.5M130,185.5L142.5,183.5M157,170.5H171.5M157,182.5H171.5M106,193.5L124.5,199.5M106,200H124.5M138,200L159.5,197"/>
<path d="M150,185L158,202.5M131,203L138,212.5M148,215.5H152.5M167,207L196.5,198M167,211L196.5,205M174,196.5H196.5M174,195L196.5,188.5M148,224.5H196.5M148,226L196.5,231.5"/>
<path d="M161,152.5H171.5M186,152.5H195.5M185,170.5L196.5,169.5M185,182.5L196.5,176M185,123.5L195.5,127M185,134L195.5,128.5M185,143.5L195.5,130"/>
<path d="M210,122L221.5,133M210,127.5L221.5,134M210,135.5L221.5,135M210,152.5L221.5,137M210,152.5L221.5,145M210,164.5L221.5,146M210,175L221.5,147M210,164.5L213.5,169M210,175.5L213.5,172"/>
<path d="M210,188.5L223.5,192M210,196.5L223.5,201M210,204.5L223.5,202.5M210,224.5L224.5,204M210,232.5L226,204.5M225.5,209.5L227,204.5"/>
<path d="M236,134.5L252.5,137M236,144.5L252.5,139M229,125V131.5"/>
<path d="M267,137L292.5,123.5M267,137L292.5,128.5M267,137.5H292.5M267,138.5L292.5,142.5M267,139L292.5,159.5M267,139.5L292.5,165.5M307,137.5H345.2"/>
<path d="M221,173.5L250,194.5M235,167L252,193.5M237,192.5L249.5,195.5M237,201.5L249.5,198"/>
<path d="M263,196.5H290V187.5H292.5M290,193.5H292.5M290,199.5H292.5M290,205.5H292.5M263,195L292.5,170.5M307,196.5H345.2"/>
<path d="M258,199.5L274.5,211.5M256,199.5L274.5,218M288,211.5L292.5,215M288,218L292.5,224M238,257.5H249.5M263,257.5H292.5M307,257.5H345.2"/>
<!-- bottom -->
<path d="M69.5,359H79.5M92,359H100.5M113,359H190.5M203,359H249.5M263,359.5H277.5M203,365H249.5M263,367H277.5"/>
<path d="M155,383.5H170M174,383.5H190.5M177,390L190.5,385.5M204,383.5H218.5M233,383.5H249.5M256.5,385.5V394.5M155,398H190.5M209,383.5V415.5H219.5"/>
<path d="M155,407.5H165.5M179,407.5H184.5M198,407H219.5M155,423.5H319.5M327,425.5V443.5M127,431V383.5H141.5M127,423.5H141.5"/>
<path d="M133,433H141.5M155,433H165.5M179,433H190.5M204,433H220.5M234,433H249.5M263,432.5H277.5"/>
<path d="M146,446H165.5M179,446H190.5M204,446H220.5M234,446H250.5M264,446H277.5M309,446H320.5M227.5,448V463"/>
<path d="M155,459H161.5M176,459H190.5M210,466H220.5M210,476H219.5M247,456.5H279.5M303,458H320.5M233,466H278.5"/>
<path d="M155,476H165.5M179,476H190.5M204,476H219.5M233,476.5H278.5M183,478.5V488H190.5M204,488H219.5M233,488H272V485.5H278.5M265,503.5H278.5"/>
<path d="M78,500H141.5M155,500H165.5M179,500H205M155,510H165.5M155,519H165.5M179,519H190.5M127,540V510H141.5M127,519H141.5M127,534.5H141.5"/>
<path d="M188.5,541L210,537M188.5,542.5L212.5,543.8M243,537L248.8,541M226,544H248.5"/>
</g>
<g class="l">
<path d="M204,459H210M303,359.5H309V485.5H303M303,367H309M303,432.5H309M303,446H309M303,458H309M303,468H309M303,477H309M210,446V476M272,466V486M335,446H345"/>
<path d="M113,537.5L123.8,541M113,543.8L123.6,542M113,550L124,543M155,534.5H162M247,79L252,81"/>
</g>
<g class="l" marker-end="url(#t)">
<path d="M249.5,96V86.8M269,96L261,86.8M161,92L156,86.8M264,128.5L261,134.7M247,144L254,140.3M250,173L254,193.7M264,167L259,193.7M226.5,413V408.8"/>
</g>
<g class="l d" marker-end="url(#a)">
<path d="M130,32.5H152.3M270,31H292.5M307,31.5H322M127,50V103Q127,107.5 131,107.5H274.5M363.5,83.5H370M270,239.5H321.5M307,170.5H321.5M363,138H387V145.5M363,196.5H387V190.5M350,257.5H367"/>
<path d="M90,157H119.5M80,225.5H132.5M106,209.5H152.5M95,257.5H224.5"/>
<path d="M72,366H141.5M73,367Q77,367 77,371V375H141.5M155,375H183M155,365H189.5M209,373.5Q242,373 249.5,367.5M256,400V406H233.5"/>
<path d="M74,431H119.5M80,431V402Q80,397.5 84,397.5H141.5M80,407.5H141.5M100,458H141.5M127,446V476H141.5"/>
<path d="M359,445.5H379M359,447.5Q366,452 371.5,453M351,448.5V455.5M346,448.5L338,455.5M358,458.5H371.5"/>
<path d="M265,488L278.5,492.5M292,493H322.5M292,504H322.5M179,510H322.5M204,519H330V514.5M367,502.5H376.5"/>
<path d="M75,543H85.5M126.5,542H185.2M125,543Q125,551 130,551H371M251.5,542H284.5M287.5,542H313V472.5H371.5"/>
</g>
<g class="l d">
<path d="M154,31V18H200M80,431V450Q80,456 86,456M127,446H139M411,438V552M411,496.5H415"/>
</g>
</g>

<g id="plus-p-labels">
<text x="166" y="82.5" class="tp">+p</text>
<text x="213" y="79.5" class="tp">+p</text>
<text x="243" y="80.8" class="tp">+p</text>
<text x="270" y="40.5" class="tp">+p</text>
<text x="284" y="82.5" class="tp">+p</text>
<text x="240" y="136" class="tp">+p</text>
<text x="274" y="135.5" class="tp">+p</text>
<text x="240" y="181" class="tp">+p</text>
<text x="275" y="195" class="tp">+p</text>
<text x="241" y="256.5" class="tp">+p</text>
<text x="280" y="256.5" class="tp">+p</text>
<text x="184" y="432" class="tp">+p</text>
<text x="313" y="445" class="tp">+p</text>
<text x="184" y="445" class="tp">+p</text>
<text x="270" y="502.5" class="tp">+p</text>
</g>
</svg>
